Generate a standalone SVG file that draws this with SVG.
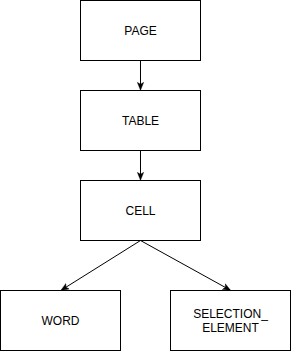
<svg xmlns="http://www.w3.org/2000/svg" width="291" height="351" viewBox="0 0 291 351">
<defs>
<style>
.box{fill:#fff;stroke:#000;stroke-width:1}
.lbl{font-family:"Liberation Sans",Arial,sans-serif;font-size:12px;fill:#000;text-anchor:middle}
.edge{stroke:#000;stroke-width:1;fill:none}
</style>
<marker id="arr" viewBox="0 0 10 10" refX="9" refY="5" markerWidth="8" markerHeight="8" orient="auto" markerUnits="userSpaceOnUse">
<path d="M0,1 L10,5 L0,9 L2.5,5 Z" fill="#000" stroke="#000" stroke-width="0.5"/>
</marker>
</defs>
<rect width="291" height="351" fill="#fff"/>
<g id="connectors">
<line class="edge" x1="140.5" y1="60.5" x2="140.5" y2="89.5" marker-end="url(#arr)"/>
<line class="edge" x1="140.5" y1="150.5" x2="140.5" y2="179.5" marker-end="url(#arr)"/>
<line class="edge" x1="140.5" y1="240.5" x2="61.5" y2="290" marker-end="url(#arr)"/>
<line class="edge" x1="140.5" y1="240.5" x2="230" y2="290" marker-end="url(#arr)"/>
</g>
<g id="page">
<rect class="box" x="80.5" y="0.5" width="120" height="60"/>
<text class="lbl" x="140.5" y="35">PAGE</text>
</g>
<g id="table">
<rect class="box" x="80.5" y="90.5" width="120" height="60"/>
<text class="lbl" x="140.5" y="125">TABLE</text>
</g>
<g id="cell">
<rect class="box" x="80.5" y="180.5" width="120" height="60"/>
<text class="lbl" x="140.5" y="215">CELL</text>
</g>
<g id="word">
<rect class="box" x="0.5" y="290.5" width="120" height="60"/>
<text class="lbl" x="60.5" y="325">WORD</text>
</g>
<g id="selection_element">
<rect class="box" x="170.5" y="290.5" width="120" height="60"/>
<text class="lbl" x="230.5" y="318">SELECTION_</text>
<text class="lbl" x="230.5" y="332">ELEMENT</text>
</g>
</svg>
